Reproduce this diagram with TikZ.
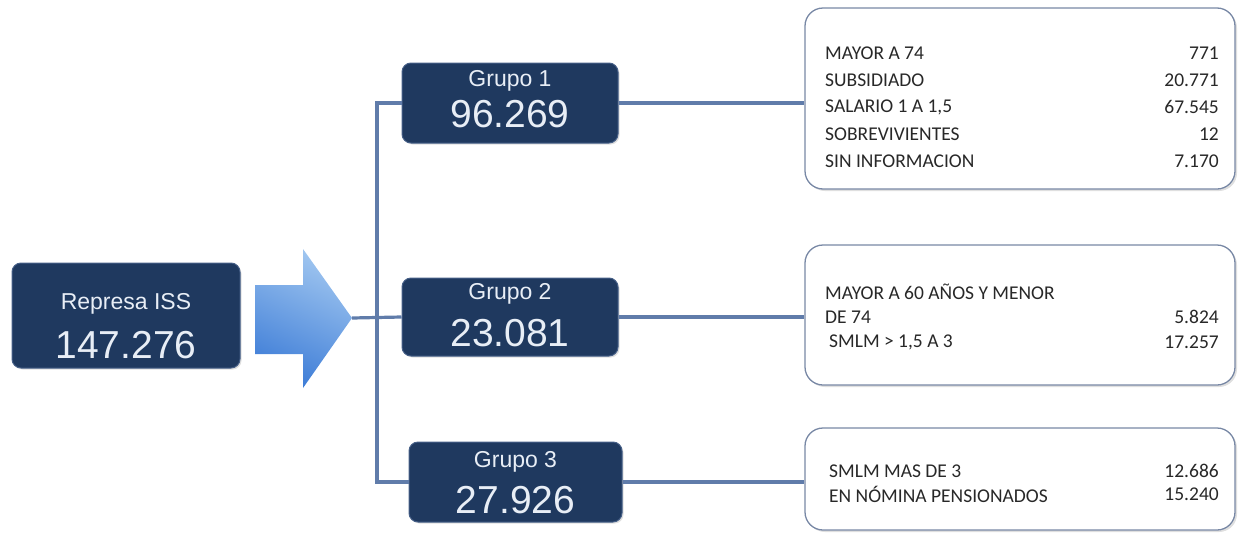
\documentclass[tikz,border=0pt]{standalone}
\usepackage{fontspec}
\setmainfont{Liberation Sans}
\newfontfamily\carl{Carlito}
\usetikzlibrary{shadows}
\definecolor{navy}{RGB}{31,57,95}
\definecolor{navyedge}{RGB}{70,95,135}
\definecolor{lightfg}{RGB}{232,238,246}
\definecolor{linec}{RGB}{96,124,170}
\definecolor{boxedge}{RGB}{120,136,165}
\definecolor{arrtop}{RGB}{160,198,240}
\definecolor{arrbot}{RGB}{62,125,215}
\definecolor{txt}{RGB}{40,40,40}
\tikzset{
  navybox/.style={draw=navyedge, line width=1pt, fill=navy, rounded corners=9pt,
    text=lightfg, align=center, inner sep=0pt,
    drop shadow={shadow xshift=1.5pt, shadow yshift=-1.5pt, opacity=0.25}},
  infobox/.style={draw=boxedge, line width=1.3pt, fill=white, rounded corners=18pt, inner sep=0pt,
    drop shadow={shadow xshift=2pt, shadow yshift=-2pt, opacity=0.25}},
  conn/.style={draw=linec, line width=3.2pt},
  lab/.style={anchor=west, inner sep=0pt, text=txt, font=\carl\fontsize{19.5}{21}\selectfont},
  val/.style={anchor=east, inner sep=0pt, text=txt, font=\carl\fontsize{19.5}{21}\selectfont},
  small/.style={font=\fontsize{23}{25}\selectfont},
  big/.style={font=\fontsize{39}{41}\selectfont}
}
\begin{document}
\begin{tikzpicture}[x=1pt,y=-1pt]
\useasboundingbox (0,0) rectangle (1239,536);

\coordinate (j) at (377,318);
\coordinate (tip) at (352,318);

% source box
\node[navybox, minimum width=228pt, minimum height=105pt] (src) at (126,315.5) {};
\node[text=lightfg, small] (srct) at (126,304) {Represa ISS};
\node[text=lightfg, big] (srcn) at (126,345) {147.276};

% arrow
\shade[top color=arrtop, bottom color=arrbot, shading angle=-25]
  (255,285) -- (303,285) -- (303,249) -- (tip) -- (303,388) -- (303,354) -- (255,354) -- cycle;

% groups
\node[navybox, minimum width=216pt, minimum height=80pt] (g1) at (510,103) {};
\node[text=lightfg, small] (g1t) at (510,81) {Grupo 1};
\node[text=lightfg, big] (g1n) at (510,114) {96.269};

\node[navybox, minimum width=216pt, minimum height=78pt] (g2) at (510,317) {};
\node[text=lightfg, small] (g2t) at (510,294) {Grupo 2};
\node[text=lightfg, big] (g2n) at (510,333) {23.081};

\node[navybox, minimum width=213pt, minimum height=80pt] (g3) at (515.5,482) {};
\node[text=lightfg, small] (g3t) at (515.5,462) {Grupo 3};
\node[text=lightfg, big] (g3n) at (515.5,500) {27.926};

% info boxes
\node[infobox, minimum width=430pt, minimum height=181pt] (b1) at (1020,98.5) {};
\node[infobox, minimum width=430pt, minimum height=140pt] (b2) at (1020,315) {};
\node[infobox, minimum width=430pt, minimum height=102pt] (b3) at (1020,479) {};

% connectors
\draw[conn] (tip) -- (g2.west);
\draw[conn] (g1.west) -| (j) |- (g3.west);
\draw[conn] (g1.east) -- (b1.west |- g1.east);
\draw[conn] (g2.east) -- (b2.west |- g2.east);
\draw[conn] (g3.east) -- (b3.west |- g3.east);

% box 1 text
\node[lab] (l11) at (825,53) {MAYOR A 74};
\node[val] (v11) at (1219,53) {771};
\node[lab] (l12) at (825,80) {SUBSIDIADO};
\node[val] (v12) at (1219,80) {20.771};
\node[lab] (l13) at (825,107) {SALARIO 1 A 1,5};
\node[val] (v13) at (1219,107) {67.545};
\node[lab] (l14) at (825,134) {SOBREVIVIENTES};
\node[val] (v14) at (1219,134) {12};
\node[lab] (l15) at (825,161) {SIN INFORMACION};
\node[val] (v15) at (1219,161) {7.170};

% box 2 text
\node[lab] (l21) at (825,292) {MAYOR A 60 AÑOS Y MENOR};
\node[lab] (l22) at (825,317) {DE 74};
\node[val] (v22) at (1219,317) {5.824};
\node[lab] (l23) at (829,342) {SMLM > 1,5 A 3};
\node[val] (v23) at (1219,342) {17.257};

% box 3 text
\node[lab] (l31) at (829,471) {SMLM MAS DE 3};
\node[val] (v31) at (1219,471) {12.686};
\node[lab] (l32) at (829,494) {EN NÓMINA PENSIONADOS};
\node[val] (v32) at (1219,494) {15.240};
\end{tikzpicture}
\end{document}
